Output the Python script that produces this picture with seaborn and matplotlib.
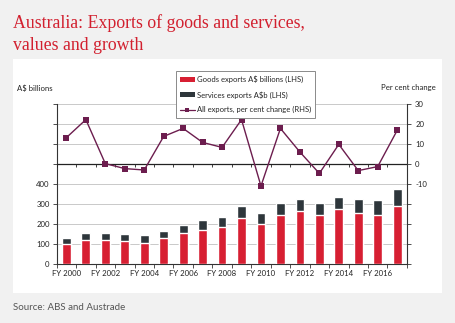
import numpy as np
import pandas as pd
import matplotlib
matplotlib.use("Agg")
import matplotlib.pyplot as plt
from matplotlib.patches import Rectangle, Patch
from matplotlib.lines import Line2D
import seaborn as sns

# Financial years and export values (A$ billions) with annual growth (%)
years = ["FY 2000", "FY 2001", "FY 2002", "FY 2003", "FY 2004", "FY 2005",
         "FY 2006", "FY 2007", "FY 2008", "FY 2009", "FY 2010", "FY 2011",
         "FY 2012", "FY 2013", "FY 2014", "FY 2015", "FY 2016", "FY 2017"]
goods = [98, 118, 120, 115, 107, 128, 153, 168, 185, 232, 202, 245,
         265, 247, 273, 253, 243, 292]
services = [30, 39, 37, 37, 40, 39, 44, 52, 52, 58, 55, 58,
            58, 56, 64, 74, 77, 81]
growth = [13.2, 22.2, 0.2, -2.3, -3.0, 13.8, 17.8, 10.8, 8.3, 22.2, -11.0,
          17.8, 6.0, -4.7, 9.8, -3.3, -1.3, 16.8]

left_ticks = [0, 100, 200, 300, 400, 500, 600, 700, 800]
left_labels = ["0", "100", "200", "300", "400", "", "", "", ""]
right_ticks = [-50, -40, -30, -20, -10, 0, 10, 20, 30]
right_labels = ["", "", "", "", "-10", "0", "10", "20", "30"]

RED = "#d71f32"
DARK = "#2e363b"
PURPLE = "#6c1d4e"
BG = "#f1f1f1"
GRID = "#c9c9c9"
AXC = "#333333"

sns.set_theme(style="white")
plt.rcParams["font.family"] = ["Lato", "DejaVu Sans"]

df = pd.DataFrame({"year": years, "goods": goods, "services": services,
                   "growth": growth})
df["total"] = df["goods"] + df["services"]
df["pos"] = np.arange(len(df))

fig = plt.figure(figsize=(4.56, 3.23), dpi=100, facecolor=BG)
panel = Rectangle((0.0285, 0.0929), 0.941, 0.7245,
                  transform=fig.transFigure, facecolor="white",
                  edgecolor="none", zorder=-5)
fig.patches.append(panel)

ax = fig.add_axes([0.1243, 0.1827, 0.768, 0.4953])
ax.set_facecolor("none")
ax.set_zorder(1)

# gridlines shared by both scales
for v in left_ticks[1:]:
    ax.axhline(v, color=GRID, lw=0.7, zorder=0)

sns.barplot(data=df, x="year", y="total", color=DARK, width=0.45,
            saturation=1, ax=ax, zorder=2)
sns.barplot(data=df, x="year", y="goods", color=RED, width=0.45,
            saturation=1, ax=ax, zorder=3)

ax.set_xlim(-0.5, len(years) - 0.5)
ax.set_ylim(0, 800)
ax.set_yticks(left_ticks)
ax.set_yticklabels(left_labels)
ax.set_xticks(np.arange(0, len(years), 2))
ax.set_xticklabels(years[::2])
ax.set_xticks(np.arange(-0.5, len(years)), minor=True)
ax.tick_params(axis="x", which="major", length=0, pad=4, labelsize=5.6,
               colors="#222222")
ax.tick_params(axis="x", which="minor", length=3, width=0.6, color=AXC,
               direction="out", bottom=True)
ax.tick_params(axis="y", length=3, width=0.6, color=AXC, labelsize=5.6,
               pad=2, labelcolor="#222222", left=True)
ax.set_xlabel("")
ax.set_ylabel("")
for s in ["top", "right"]:
    ax.spines[s].set_visible(False)
for s in ["left", "bottom"]:
    ax.spines[s].set_color(AXC)
    ax.spines[s].set_linewidth(0.8)

ax2 = ax.twinx()
ax2.set_zorder(2)
ax2.set_facecolor("none")
ax2.set_ylim(-50, 30)
ax2.axhline(0, color="#222222", lw=0.9, zorder=1)
ax2.vlines(np.arange(-0.5, len(years)), -1.4, 0, color="#222222", lw=0.6)
sns.lineplot(data=df, x="pos", y="growth", color=PURPLE, lw=1.0,
             marker="s", markersize=4.2, markeredgewidth=0, ax=ax2, zorder=5)
ax2.set_xlim(-0.5, len(years) - 0.5)
ax2.set_yticks(right_ticks)
ax2.set_yticklabels(right_labels)
ax2.tick_params(axis="y", length=3, width=0.6, color=AXC, labelsize=5.6,
                pad=3, labelcolor="#222222", right=True)
ax2.set_xlabel("")
ax2.set_ylabel("")
for s in ["top", "left", "bottom"]:
    ax2.spines[s].set_visible(False)
ax2.spines["right"].set_color(AXC)
ax2.spines["right"].set_linewidth(0.8)

handles = [
    Patch(facecolor=RED, edgecolor="none"),
    Patch(facecolor=DARK, edgecolor="none"),
    Line2D([], [], color=PURPLE, lw=0.9, marker="s", markersize=3.2,
           markeredgewidth=0),
]
labels = ["Goods exports A$ billions (LHS)", "Services exports A$b (LHS)",
          "All exports, per cent change (RHS)"]
leg = fig.legend(handles, labels, loc="upper left",
                 bbox_to_anchor=(0.385, 0.779), fontsize=5.5, frameon=True,
                 fancybox=False, framealpha=1, edgecolor="#8a8a8a",
                 handlelength=2.0, handleheight=0.5, handletextpad=0.2,
                 labelspacing=1.0, borderpad=0.55, borderaxespad=0)
leg.get_frame().set_linewidth(0.7)
leg.set_zorder(10)

fig.text(0.0285, 0.955,
         "Australia: Exports of goods and services,\nvalues and growth",
         ha="left", va="top", color="#d2202f", fontsize=12.8,
         family=["Liberation Serif", "DejaVu Serif"], linespacing=1.35)
fig.text(0.037, 0.728, "A$ billions", ha="left", va="center", fontsize=5.6,
         color="#222222")
fig.text(0.956, 0.728, "Per cent change", ha="right", va="center",
         fontsize=5.6, color="#222222")
fig.text(0.0285, 0.049, "Source: ABS and Austrade", ha="left", va="center",
         fontsize=7, color="#555555")

fig.savefig("out.png", dpi=100, facecolor=BG)
